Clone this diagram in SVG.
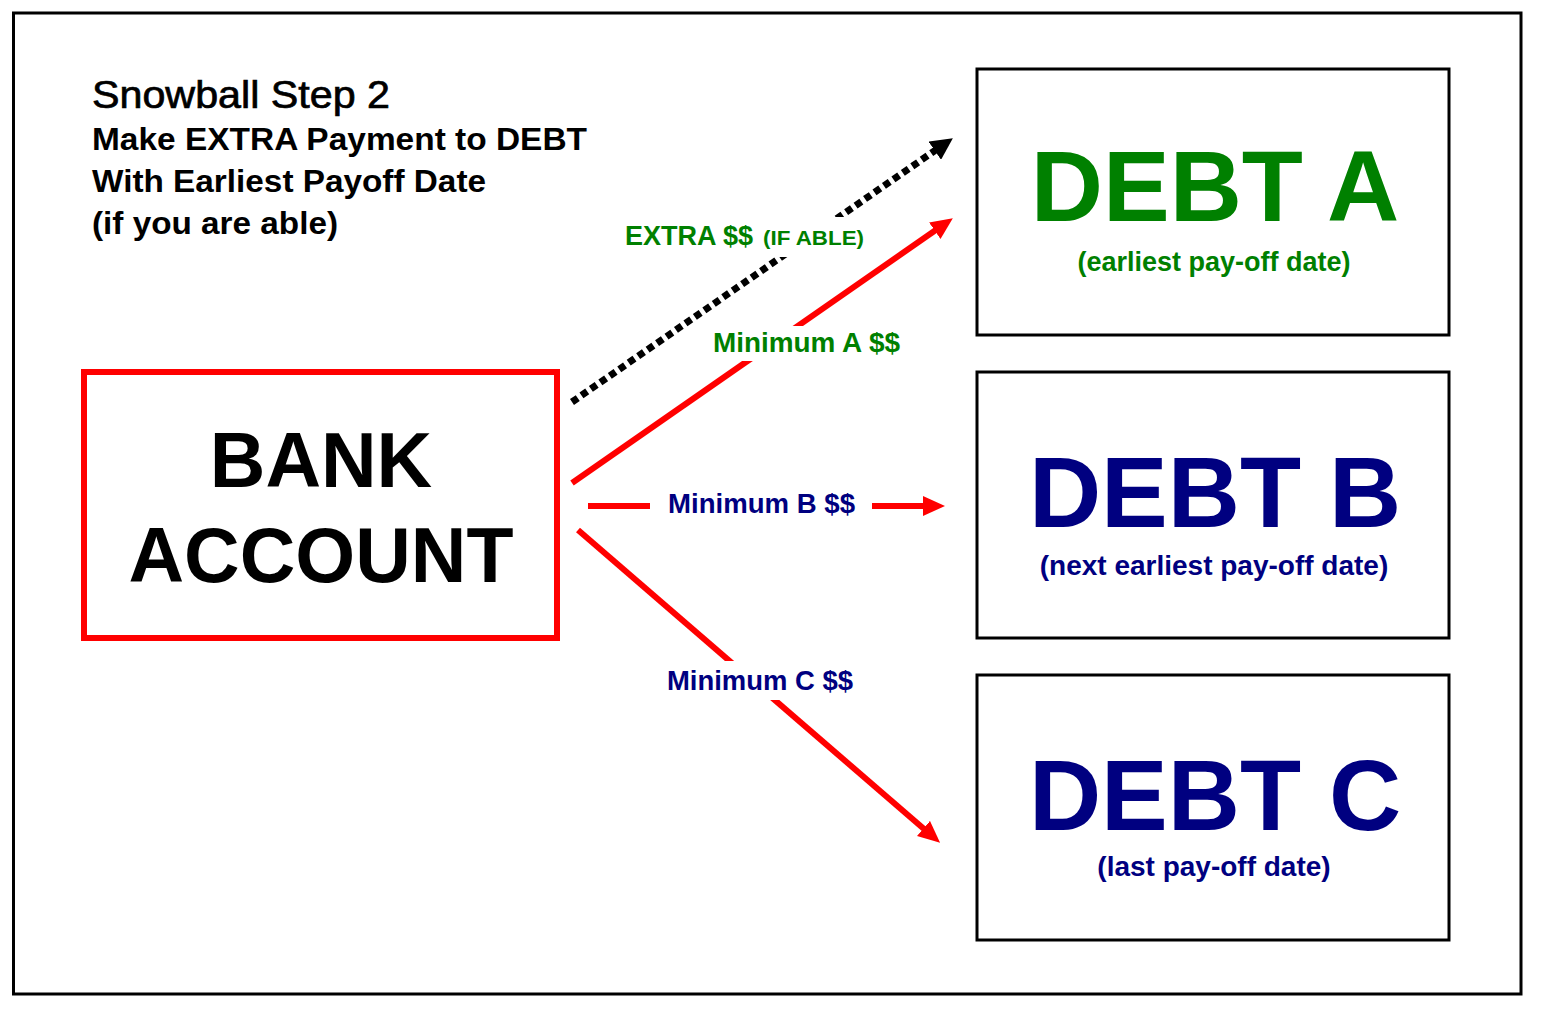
<svg xmlns="http://www.w3.org/2000/svg" width="1542" height="1015" viewBox="0 0 1542 1015">
  <style>
    text { font-family: "Liberation Sans", Arial, sans-serif; }
    .box { fill: #ffffff; stroke: #000000; stroke-width: 3; }
    .bank { fill: #ffffff; stroke: #ff0000; stroke-width: 6; }
    .title { font-size: 38px; fill: #000000; stroke: #000000; stroke-width: 0.7; }
    .sub { font-size: 32px; font-weight: bold; fill: #000000; }
    .big { font-size: 77px; font-weight: bold; fill: #000000; text-anchor: middle; }
    .debt { font-size: 100px; font-weight: bold; text-anchor: middle; }
    .note { font-size: 28px; font-weight: bold; text-anchor: middle; }
    .lbl { font-size: 27px; font-weight: bold; }
    .green { fill: #008000; }
    .navy { fill: #000080; }
    .red { stroke: #ff0000; stroke-width: 6; fill: none; }
    .dot { stroke: #000000; stroke-width: 7; fill: none; stroke-dasharray: 7 4.5; }
    .bg { fill: #ffffff; }
  </style>
  <defs>
    <marker id="ahRed" markerUnits="userSpaceOnUse" markerWidth="22" markerHeight="20" refX="10" refY="10" orient="auto">
      <path d="M0,0 L22,10 L0,20 z" fill="#ff0000"/>
    </marker>
    <marker id="ahBlack" markerUnits="userSpaceOnUse" markerWidth="22" markerHeight="22" refX="10" refY="11" orient="auto">
      <path d="M0,0 L22,11 L0,22 z" fill="#000000"/>
    </marker>
  </defs>

  <rect x="0" y="0" width="1542" height="1015" fill="#ffffff"/>
  <rect x="13.5" y="13" width="1507.5" height="981" fill="none" stroke="#000000" stroke-width="3"/>

  <g id="title">
    <text class="title" x="92" y="108" textLength="298" lengthAdjust="spacingAndGlyphs">Snowball Step 2</text>
    <text class="sub" x="92" y="150" textLength="495" lengthAdjust="spacingAndGlyphs">Make EXTRA Payment to DEBT</text>
    <text class="sub" x="92" y="192" textLength="394" lengthAdjust="spacingAndGlyphs">With Earliest Payoff Date</text>
    <text class="sub" x="92" y="234" textLength="246" lengthAdjust="spacingAndGlyphs">(if you are able)</text>
  </g>

  <g id="connectors">
    <path class="dot" d="M572,402 L943,145" marker-end="url(#ahBlack)"/>
    <path class="red" d="M572,483 L943,225" marker-end="url(#ahRed)"/>
    <path class="red" d="M588,506 L650,506"/>
    <path class="red" d="M872,506 L933,506" marker-end="url(#ahRed)"/>
    <path class="red" d="M578,530 L931,835" marker-end="url(#ahRed)"/>
  </g>

  <g id="labels">
    <rect class="bg" x="618" y="217" width="254" height="40"/>
    <text class="lbl green" x="625" y="245">EXTRA $$ <tspan x="763" font-size="21px" textLength="101" lengthAdjust="spacingAndGlyphs">(IF ABLE)</tspan></text>
    <rect class="bg" x="705" y="326" width="204" height="35"/>
    <text class="lbl green" x="713" y="352" textLength="187" lengthAdjust="spacingAndGlyphs">Minimum A $$</text>
    <text class="lbl navy" x="668" y="513" textLength="187" lengthAdjust="spacingAndGlyphs">Minimum B $$</text>
    <rect class="bg" x="660" y="661" width="200" height="39"/>
    <text class="lbl navy" x="667" y="690" textLength="186" lengthAdjust="spacingAndGlyphs">Minimum C $$</text>
  </g>

  <g id="bank-account">
    <rect class="bank" x="84" y="372" width="473" height="266"/>
    <text class="big" x="321" y="487">BANK</text>
    <text class="big" x="321" y="582">ACCOUNT</text>
  </g>

  <g id="debt-a">
    <rect class="box" x="977" y="69" width="472" height="266"/>
    <text class="debt green" x="1215" y="221">DEBT A</text>
    <text class="note green" x="1214" y="271" style="font-size:27px">(earliest pay-off date)</text>
  </g>

  <g id="debt-b">
    <rect class="box" x="977" y="372" width="472" height="266"/>
    <text class="debt navy" x="1215" y="527">DEBT B</text>
    <text class="note navy" x="1214" y="575">(next earliest pay-off date)</text>
  </g>

  <g id="debt-c">
    <rect class="box" x="977" y="675" width="472" height="265"/>
    <text class="debt navy" x="1215" y="830">DEBT C</text>
    <text class="note navy" x="1214" y="876">(last pay-off date)</text>
  </g>
</svg>
